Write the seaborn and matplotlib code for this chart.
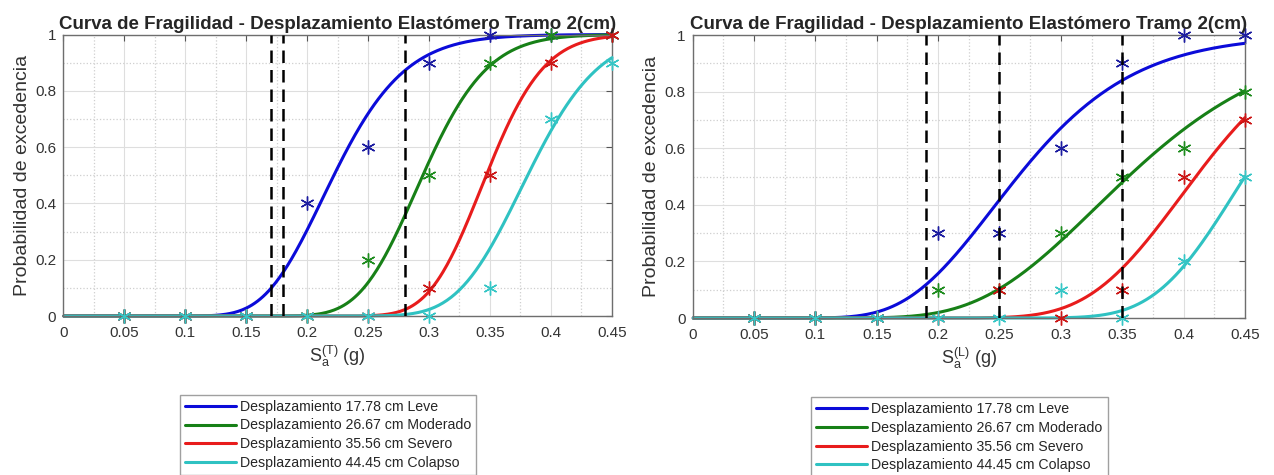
import math
import numpy as np
import pandas as pd
import matplotlib
matplotlib.use('Agg')
import matplotlib.pyplot as plt
from matplotlib.ticker import MultipleLocator, FuncFormatter
import seaborn as sns

# Estados de dano (leyenda)
ESTADOS = [
    'Desplazamiento 17.78 cm Leve',
    'Desplazamiento 26.67 cm Moderado',
    'Desplazamiento 35.56 cm Severo',
    'Desplazamiento 44.45 cm Colapso',
]
COLORES = ['#0b0bd9', '#178017', '#e81c1c', '#2fc2c2']
COLORES_PTS = ['#1c1ca0', '#1e8c1e', '#cc1616', '#36c6c6']

# Intensidades analizadas Sa (g)
SA_PTS = [0.05, 0.10, 0.15, 0.20, 0.25, 0.30, 0.35, 0.40, 0.45]

# Direccion transversal (T) - probabilidades observadas
PROB_T_LEVE = [0, 0, 0, 0.4, 0.6, 0.9, 1.0, 1.0, 1.0]
PROB_T_MODERADO = [0, 0, 0, 0, 0.2, 0.5, 0.9, 1.0, 1.0]
PROB_T_SEVERO = [0, 0, 0, 0, 0, 0.1, 0.5, 0.9, 1.0]
PROB_T_COLAPSO = [0, 0, 0, 0, 0, 0, 0.1, 0.7, 0.9]
# ajuste lognormal (mediana, dispersion)
MEDIANA_T = [0.222, 0.295, 0.347, 0.381]
BETA_T = [0.205, 0.140, 0.107, 0.120]
LIMITES_T = [0.17, 0.18, 0.28]

# Direccion longitudinal (L)
PROB_L_LEVE = [0, 0, 0, 0.3, 0.3, 0.6, 0.9, 1.0, 1.0]
PROB_L_MODERADO = [0, 0, 0, 0.1, 0.1, 0.3, 0.5, 0.6, 0.8]
PROB_L_SEVERO = [0, 0, 0, 0, 0.1, 0, 0.1, 0.5, 0.7]
PROB_L_COLAPSO = [0, 0, 0, 0, 0, 0.1, 0, 0.2, 0.5]
MEDIANA_L = [0.265, 0.355, 0.410, 0.450]
BETA_L = [0.280, 0.278, 0.170, 0.130]
LIMITES_L = [0.19, 0.25, 0.35]

TITULO = 'Curva de Fragilidad - Desplazamiento Elastómero Tramo 2(cm)'


def curva_lognormal(sa, mediana, beta):
    return [0.5 * (1 + math.erf(math.log(s / mediana) / (beta * math.sqrt(2)))) for s in sa]


def dibujar(ax, puntos, medianas, betas, limites, direccion):
    sa = np.linspace(0.0005, 0.45, 400)
    filas = []
    for est, med, b in zip(ESTADOS, medianas, betas):
        for s, p in zip(sa, curva_lognormal(sa, med, b)):
            filas.append({'sa': s, 'p': p, 'estado': est})
    df = pd.DataFrame(filas)

    ax.grid(which='major', color='#dedede', lw=0.8, ls='-')
    ax.grid(which='minor', color='#cfcfcf', lw=0.9, ls=':')
    ax.set_axisbelow(True)

    for i, est in enumerate(ESTADOS):
        sns.lineplot(data=df[df['estado'] == est], x='sa', y='p', color=COLORES[i],
                     lw=2.2, ax=ax, label=est, clip_on=False)
        ax.plot(SA_PTS, puntos[i], ls='none', marker=(6, 2, 0), ms=10, mew=1.0,
                color=COLORES_PTS[i], clip_on=False, zorder=3, label='_nolegend_')

    for x in limites:
        ax.axvline(x, color='black', ls=(0, (5, 2.8)), lw=1.8, zorder=4)

    ax.set_xlim(0, 0.45)
    ax.set_ylim(0, 1)
    ax.xaxis.set_major_locator(MultipleLocator(0.05))
    ax.xaxis.set_minor_locator(MultipleLocator(0.025))
    ax.yaxis.set_major_locator(MultipleLocator(0.2))
    ax.yaxis.set_minor_locator(MultipleLocator(0.1))
    fmt = FuncFormatter(lambda v, pos: f'{v:.2f}'.rstrip('0').rstrip('.'))
    ax.xaxis.set_major_formatter(fmt)
    ax.yaxis.set_major_formatter(fmt)
    ax.tick_params(which='major', direction='in', length=4, width=0.8, color='#555555',
                   top=True, right=True, labelsize=11, labelcolor='#333333')
    ax.tick_params(axis='x', which='major', pad=7)
    ax.tick_params(axis='y', which='major', pad=5)
    ax.tick_params(which='minor', length=0)
    for sp in ax.spines.values():
        sp.set_color('#6e6e6e')
        sp.set_linewidth(1.0)

    ax.set_title(TITULO, fontsize=13.5, fontweight='bold', pad=4)
    ax.set_xlabel(r'$\mathregular{S_a^{(' + direccion + r')}}$ (g)', fontsize=13,
                  color='#333333', labelpad=3)
    ax.set_ylabel('Probabilidad de excedencia', fontsize=14, color='#333333', labelpad=3)

    handles, labels = ax.get_legend_handles_labels()
    ax.legend(handles, labels, loc='upper center', bbox_to_anchor=(0.483, -0.28),
              frameon=True, fancybox=False, edgecolor='#888888', fontsize=10.2,
              handlelength=3.6, handletextpad=0.3, borderpad=0.35, labelspacing=0.33,
              borderaxespad=0)


sns.set_style('white')
plt.rcParams['font.family'] = ['Liberation Sans', 'DejaVu Sans']
plt.rcParams['mathtext.fontset'] = 'custom'
plt.rcParams['mathtext.rm'] = 'Liberation Sans'

fig = plt.figure(figsize=(12.74, 4.75), dpi=100)
ax1 = fig.add_axes([0.0497, 0.3347, 0.4305, 0.5926])
ax2 = fig.add_axes([0.5437, 0.3305, 0.4335, 0.5958])

dibujar(ax1, [PROB_T_LEVE, PROB_T_MODERADO, PROB_T_SEVERO, PROB_T_COLAPSO],
        MEDIANA_T, BETA_T, LIMITES_T, 'T')
dibujar(ax2, [PROB_L_LEVE, PROB_L_MODERADO, PROB_L_SEVERO, PROB_L_COLAPSO],
        MEDIANA_L, BETA_L, LIMITES_L, 'L')

fig.savefig('out.png', dpi=100)
